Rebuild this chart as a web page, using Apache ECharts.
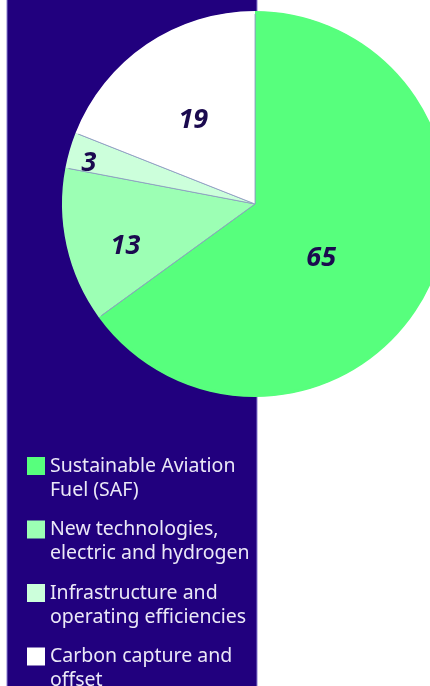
<!DOCTYPE html>
<html>
<head>
<meta charset="utf-8">
<script src="https://cdn.jsdelivr.net/npm/echarts@6/dist/echarts.min.js"></script>
<style>
html,body{margin:0;padding:0;background:#ffffff;}
#chart{width:430px;height:686px;}
</style>
</head>
<body>
<div id="chart"></div>
<script>
const categories = [
  'Sustainable Aviation\nFuel (SAF)',
  'New technologies,\nelectric and hydrogen',
  'Infrastructure and\noperating efficiencies',
  'Carbon capture and\noffset'
];
const values = [65, 13, 3, 19];
const colors = ['#57ff7d', '#9cffb4', '#ccffdb', '#ffffff'];
const labelOffsets = [[-22, 9], [-33, 21], [-71, -13], [-6, -2]];

const chart = echarts.init(document.getElementById('chart'), null, {renderer: 'canvas'});
const data = categories.map((c, i) => ({
  name: c,
  value: values[i],
  itemStyle: {color: colors[i]},
  label: {offset: labelOffsets[i]}
}));
const rimData = categories.map((c, i) => ({
  name: c,
  value: values[i],
  itemStyle: {color: colors[i]}
}));
chart.setOption({
  animation: false,
  backgroundColor: '#ffffff',
  graphic: [{
    type: 'rect',
    z: -10,
    shape: {x: 7, y: -2, width: 250, height: 690},
    style: {fill: '#21007e', stroke: '#8a7fd0', lineWidth: 1}
  }],
  legend: {
    orient: 'vertical',
    left: 27,
    top: 430,
    height: 600,
    padding: 0,
    icon: 'rect',
    itemWidth: 18,
    itemHeight: 18,
    itemGap: -8.5,
    selectedMode: false,
    itemStyle: {borderWidth: 0},
    data: categories,
    formatter: function (name) { return '\n' + name; },
    textStyle: {
      color: '#ebe8f7',
      fontSize: 19.5,
      lineHeight: 24,
      fontFamily: 'Noto Sans'
    }
  },
  series: [{
    type: 'pie',
    center: [255, 204],
    radius: [0, 192],
    startAngle: 90,
    clockwise: true,
    data: data,
    itemStyle: {borderColor: '#8c9cc0', borderWidth: 0.8},
    label: {
      show: true,
      position: 'inside',
      formatter: '{c}',
      color: '#1b0a4f',
      fontSize: 27,
      fontWeight: 'bold',
      fontStyle: 'italic',
      fontFamily: 'Noto Sans'
    },
    labelLine: {show: false},
    emphasis: {disabled: true}
  }, {
    type: 'pie',
    z: 3,
    silent: true,
    center: [255, 204],
    radius: [190, 193],
    startAngle: 90,
    clockwise: true,
    data: rimData,
    itemStyle: {borderWidth: 0},
    label: {show: false},
    labelLine: {show: false},
    emphasis: {disabled: true}
  }]
});
</script>
</body>
</html>
